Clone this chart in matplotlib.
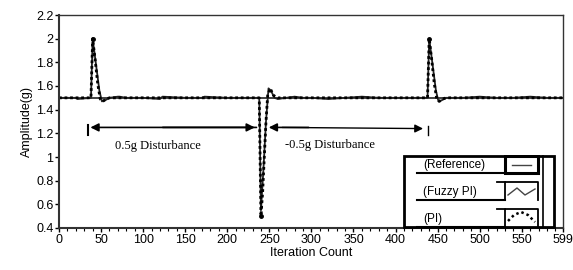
import numpy as np
import matplotlib
matplotlib.use("Agg")
import matplotlib.pyplot as plt
from matplotlib.patches import Rectangle

plt.rcParams['font.family'] = ['Liberation Sans', 'DejaVu Sans']

# reference setpoint
ref_x = [0, 599]
ref_y = [1.5, 1.5]

# fuzzy PI response
fuzzy_x = [0, 20, 22, 38, 40, 44, 48, 51, 55, 60, 70, 72, 80, 100, 120, 123, 150, 170, 173, 200,
           238, 240, 243, 246, 249, 252, 256, 260, 270, 280, 290, 300, 320, 340, 360, 380, 400,
           438, 440, 444, 448, 451, 455, 460, 480, 500, 520, 540, 560, 580, 599]
fuzzy_y = [1.5, 1.5, 1.49, 1.5, 2.0, 1.78, 1.56, 1.47, 1.48, 1.5, 1.51, 1.51, 1.5, 1.5, 1.49, 1.51, 1.5, 1.5, 1.51, 1.5,
           1.5, 0.55, 0.9, 1.3, 1.58, 1.56, 1.5, 1.49, 1.5, 1.51, 1.5, 1.5, 1.49, 1.5, 1.51, 1.5, 1.5,
           1.5, 2.0, 1.78, 1.56, 1.47, 1.48, 1.5, 1.5, 1.51, 1.5, 1.5, 1.51, 1.5, 1.5]

# PI response
pi_x = [0, 38, 40, 43, 46, 49, 52, 56, 60, 100, 200,
        238, 240, 242, 244, 246, 248, 251, 255, 260, 300, 400,
        438, 440, 443, 446, 449, 452, 456, 460, 599]
pi_y = [1.5, 1.5, 2.0, 1.82, 1.62, 1.49, 1.47, 1.49, 1.5, 1.5, 1.5,
        1.5, 0.5, 0.7, 1.0, 1.3, 1.52, 1.58, 1.52, 1.5, 1.5, 1.5,
        1.5, 2.0, 1.82, 1.62, 1.49, 1.47, 1.49, 1.5, 1.5]

x_ticks = [0, 50, 100, 150, 200, 250, 300, 350, 400, 450, 500, 550, 599]
y_ticks = [0.4, 0.6, 0.8, 1, 1.2, 1.4, 1.6, 1.8, 2, 2.2]

fig = plt.figure(figsize=(5.73, 2.70), dpi=100)
ax = fig.add_axes([59/573, 42/270, 504/573, 213/270])

ax.plot(ref_x, ref_y, color='#222222', lw=1.2)
ax.plot(fuzzy_x, fuzzy_y, color='#222222', lw=1.3)
ax.plot(pi_x, pi_y, color='black', lw=2.0, ls=(0, (1, 1)))
ax.plot([40, 240, 440], [2.0, 0.5, 2.0], 'o', color='black', ms=2.5)

# disturbance arrows
ax.annotate('', xy=(34, 1.25), xytext=(238, 1.25),
            arrowprops=dict(arrowstyle='-|>', color='black', lw=1.2, mutation_scale=12))
ax.annotate('', xy=(236, 1.25), xytext=(120, 1.25),
            arrowprops=dict(arrowstyle='-|>', color='black', lw=1.2, mutation_scale=12))
ax.annotate('', xy=(246, 1.25), xytext=(300, 1.25),
            arrowprops=dict(arrowstyle='-|>', color='black', lw=1.2, mutation_scale=12))
ax.annotate('', xy=(436, 1.24), xytext=(262, 1.25),
            arrowprops=dict(arrowstyle='-|>', color='black', lw=1.0, mutation_scale=12))
ax.plot([34, 34], [1.27, 1.19], color='black', lw=1.5)
ax.plot([438, 438], [1.26, 1.19], color='black', lw=1.0)

ax.text(118, 1.09, '0.5g Disturbance', family='Liberation Serif', fontsize=9, ha='center', va='center')
ax.text(322, 1.10, '-0.5g Disturbance', family='Liberation Serif', fontsize=9, ha='center', va='center')

ax.set_xlim(0, 599)
ax.set_ylim(0.4, 2.2)
ax.set_xticks(x_ticks)
ax.set_xticks(np.arange(0, 600, 10), minor=True)
ax.set_yticks(y_ticks)
ax.set_yticklabels(['%g' % v for v in y_ticks])
ax.tick_params(direction='out', labelsize=9, length=3, width=1, pad=1)
ax.tick_params(which='minor', direction='out', length=2, width=0.8)
for s in ax.spines.values():
    s.set_linewidth(1.0)
    s.set_color('#333333')
ax.spines['left'].set_linewidth(1.5)
ax.spines['bottom'].set_linewidth(1.5)
ax.set_xlabel('Iteration Count', fontsize=9, labelpad=1)
ax.set_ylabel('Amplitude(g)', fontsize=9, labelpad=2)

# hand-drawn legend box (pixel coords inside the box)
lg = fig.add_axes([403/573, 42/270, 152/573, 73/270])
lg.set_xlim(0, 152)
lg.set_ylim(73, 0)
lg.axis('off')
lg.add_patch(Rectangle((1, 1), 150, 71, fill=False, lw=2, ec='black', clip_on=False))
lg.plot([140, 140], [1, 72], color='black', lw=1.2)
names = ['(Reference)', '(Fuzzy PI)', '(PI)']
row_top = [1, 27, 54]
row_bot = [18, 45, 72]
for i, nm in enumerate(names):
    lg.text(20, row_bot[i] - 8, nm, fontsize=8.5, va='center', ha='left')
    lg.plot([14, 102], [row_bot[i], row_bot[i]], color='black', lw=1.5)
    lg.plot([102, 102, 135, 135], [row_bot[i], row_top[i], row_top[i], row_bot[i]], color='black', lw=1.3)
    if i > 0:
        lg.plot([94, 102], [row_top[i], row_top[i]], color='black', lw=1.3)
lg.add_patch(Rectangle((102, 1), 33, 17, fill=False, lw=2.2, ec='black'))
lg.plot([109, 128], [10, 10], color='#444444', lw=1)
lg.plot([105, 114, 122, 132], [40, 33, 40, 34], color='#444444', lw=1)
lg.plot([105, 111, 118, 125, 132], [66, 60, 57, 60, 67], color='black', lw=1.8, ls=(0, (1, 1.2)))

fig.savefig('out.png', dpi=100)
